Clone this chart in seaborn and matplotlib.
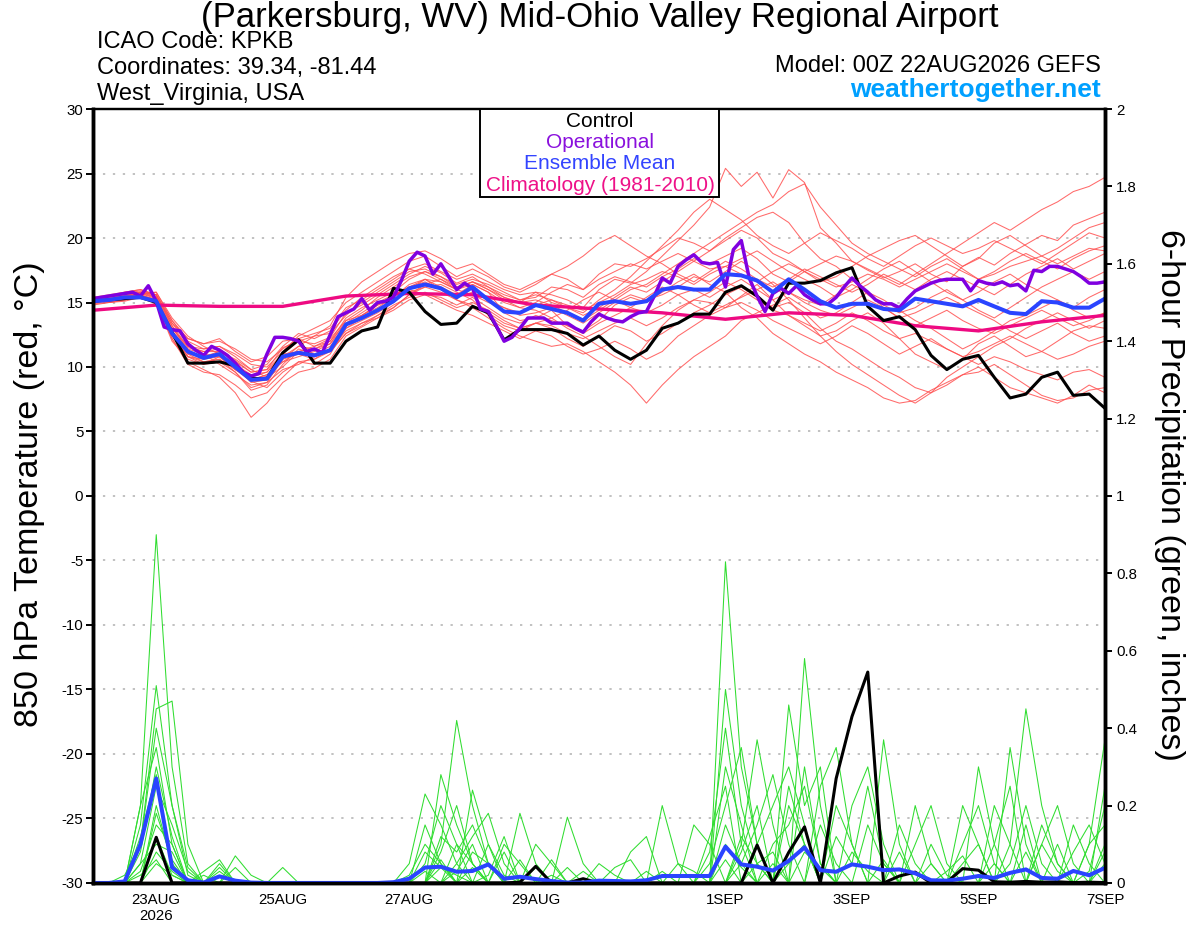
import numpy as np
import pandas as pd
import matplotlib
matplotlib.use("Agg")
import matplotlib.pyplot as plt
import seaborn as sns
from matplotlib.patches import Rectangle

# forecast steps in days after 00Z 22AUG2026 (6-hourly GEFS, 3-hourly operational)
steps = np.arange(65) * 0.25
steps_op = np.arange(129) * 0.125
clim_days = np.arange(17)

tick_days = [1, 3, 5, 7, 10, 12, 14, 16]
tick_labels = ["23AUG\n2026", "25AUG", "27AUG", "29AUG", "1SEP", "3SEP", "5SEP", "7SEP"]

# 850 hPa temperature (C)
control_t = [15.1, 15.2, 15.3, 15.4, 15.0, 12.7, 10.3, 10.3,
             10.4, 10.1, 9.1, 9.1, 11.1, 12.1, 10.3, 10.3,
             12.0, 12.8, 13.1, 16.1, 15.8, 14.3, 13.3, 13.4,
             14.7, 14.2, 12.1, 12.9, 12.9, 12.9, 12.6, 11.7,
             12.4, 11.3, 10.6, 11.3, 13.0, 13.4, 14.1, 14.1,
             15.8, 16.3, 15.5, 14.4, 16.5, 16.5, 16.7, 17.3,
             17.7, 14.7, 13.6, 13.9, 12.9, 10.9, 9.8, 10.6,
             10.9, 9.2, 7.6, 7.9, 9.2, 9.6, 7.8, 7.9, 6.8]

mean_t = [15.1, 15.2, 15.4, 15.4, 15.1, 12.6, 11.2, 10.7,
          11.0, 10.0, 9.0, 9.1, 10.8, 11.1, 10.9, 11.3,
          13.3, 13.8, 14.4, 15.1, 16.1, 16.4, 16.1, 15.4,
          16.2, 15.2, 14.3, 14.2, 14.8, 14.5, 14.2, 13.6,
          14.9, 15.1, 14.9, 15.1, 16.0, 16.2, 16.0, 16.0,
          17.2, 17.1, 16.7, 15.8, 16.8, 16.0, 15.1, 14.6,
          14.9, 14.9, 14.5, 14.4, 15.3, 15.1, 14.9, 14.7,
          15.2, 14.7, 14.2, 14.1, 15.1, 15.0, 14.6, 14.6, 15.3]

oper_t = [15.3, 15.4, 15.5, 15.6, 15.7, 15.8, 15.5, 16.3,
          15.1, 13.1, 12.9, 12.8, 11.8, 11.3, 10.9, 11.6,
          11.3, 10.9, 10.3, 9.6, 9.3, 9.5, 11.0, 12.3,
          12.3, 12.2, 12.0, 11.2, 11.4, 11.1, 12.5, 13.9,
          14.2, 14.5, 15.3, 14.4, 15.0, 15.1, 15.4, 16.7,
          18.2, 18.9, 18.6, 17.2, 18.0, 17.0, 16.0, 16.5,
          16.1, 14.5, 14.3, 13.2, 12.0, 12.3, 13.0, 13.8,
          13.8, 13.8, 13.4, 13.4, 13.4, 13.0, 12.7, 13.5,
          14.1, 13.8, 13.6, 13.5, 13.9, 14.2, 14.3, 15.5,
          16.9, 16.5, 17.8, 18.3, 18.7, 18.1, 18.0, 18.1,
          16.2, 19.1, 19.8, 16.9, 15.5, 14.3, 15.7, 16.1,
          15.7, 16.3, 15.6, 15.2, 14.9, 14.9, 15.4, 16.2,
          16.9, 16.3, 15.8, 15.2, 14.9, 14.9, 14.6, 15.3,
          15.9, 16.2, 16.5, 16.7, 16.8, 16.8, 16.8, 15.9,
          16.7, 16.5, 16.4, 16.6, 16.3, 16.4, 15.9, 17.5,
          17.4, 17.8, 17.8, 17.6, 17.4, 17.0, 16.5, 16.5, 16.6]

clim_t = [14.4, 14.8, 14.7, 14.7, 15.5, 15.7, 15.6, 14.8, 14.5,
          14.2, 13.7, 14.2, 14.0, 13.2, 12.8, 13.5, 14.0]

member_t = [
    [15.0, 15.3, 15.6, 15.8, 15.4, 13.0, 11.5, 11.2, 11.4, 10.5, 9.6, 9.8, 11.5, 12.0, 11.8, 12.3,
     14.2, 14.8, 15.6, 16.4, 17.2, 17.8, 17.3, 16.5, 17.0, 16.2, 15.4, 15.0, 15.8, 15.6, 15.2, 14.6,
     16.0, 16.8, 16.5, 17.4, 18.6, 19.8, 21.0, 22.4, 25.4, 24.0, 25.1, 23.1, 25.3, 24.3, 20.8, 19.6,
     18.2, 17.5, 16.9, 17.4, 18.0, 17.2, 16.6, 17.8, 18.5, 17.9, 18.8, 19.5, 20.2, 19.8, 21.0, 21.5, 22.0],
    [15.2, 15.1, 15.4, 15.6, 15.0, 12.2, 10.4, 9.8, 9.2, 8.0, 6.1, 7.2, 8.8, 9.6, 9.9, 10.6,
     12.4, 13.1, 13.8, 14.6, 15.6, 16.2, 16.4, 15.8, 15.2, 14.0, 13.2, 12.8, 13.4, 13.8, 13.0, 12.4,
     11.6, 10.8, 10.2, 11.8, 13.2, 14.4, 15.2, 15.0, 14.6, 15.5, 16.4, 15.2, 14.0, 13.2, 12.4, 12.8,
     13.6, 14.2, 13.4, 12.2, 11.0, 10.4, 9.8, 10.6, 11.8, 12.4, 11.6, 10.8, 11.2, 12.0, 12.8, 13.2, 13.0],
    [15.4, 15.5, 15.7, 15.9, 15.6, 13.4, 11.8, 11.0, 10.8, 9.8, 8.9, 8.4, 9.6, 10.4, 10.2, 11.0,
     13.0, 13.6, 14.2, 15.0, 16.0, 16.8, 16.2, 15.6, 16.4, 15.8, 14.2, 13.6, 13.8, 14.4, 13.2, 12.8,
     13.6, 14.8, 15.4, 15.0, 15.8, 16.6, 17.2, 16.4, 15.8, 14.6, 13.8, 12.6, 11.8, 11.0, 10.4, 9.6,
     9.0, 8.4, 7.6, 7.2, 7.4, 8.2, 8.8, 9.4, 9.6, 10.2, 9.4, 8.6, 7.8, 7.4, 7.6, 8.2, 8.4],
    [15.0, 15.2, 15.3, 15.7, 15.8, 13.8, 12.4, 11.6, 11.0, 10.2, 9.4, 9.6, 10.8, 11.6, 12.4, 13.2,
     15.4, 16.6, 17.4, 18.2, 18.8, 19.0, 18.4, 17.6, 18.0, 17.2, 16.4, 16.0, 16.6, 17.2, 16.8, 16.0,
     17.2, 18.0, 17.8, 18.4, 19.2, 20.0, 19.6, 19.0, 19.8, 20.6, 20.0, 18.8, 18.2, 17.4, 16.6, 17.0,
     17.8, 18.6, 19.2, 19.8, 20.2, 19.4, 18.6, 17.8, 18.4, 19.6, 20.2, 19.4, 18.6, 19.2, 20.0, 20.8, 21.2],
    [15.1, 15.0, 15.2, 15.5, 15.2, 12.8, 11.0, 10.4, 10.6, 9.8, 9.0, 9.4, 10.4, 10.8, 11.2, 11.8,
     13.6, 14.0, 14.8, 15.6, 16.2, 16.8, 16.0, 15.2, 14.6, 13.8, 13.0, 12.4, 12.0, 11.6, 11.8, 11.2,
     10.4, 9.6, 8.6, 7.2, 8.6, 9.8, 10.8, 11.6, 12.4, 13.6, 14.2, 14.8, 15.4, 14.6, 13.8, 14.2,
     15.0, 15.8, 15.2, 14.4, 13.6, 13.0, 12.2, 11.4, 12.0, 12.8, 13.6, 14.0, 14.6, 15.2, 14.4, 13.8, 14.2],
    [15.3, 15.4, 15.6, 15.8, 15.5, 13.2, 11.2, 10.8, 11.2, 10.6, 9.8, 9.2, 10.0, 11.2, 11.6, 12.0,
     13.8, 14.6, 15.2, 15.8, 16.8, 17.4, 17.0, 16.4, 16.8, 16.4, 15.8, 15.2, 15.4, 16.2, 16.0, 15.4,
     16.4, 17.0, 16.6, 16.2, 17.0, 17.6, 18.4, 18.0, 18.6, 19.2, 18.4, 17.2, 16.6, 17.4, 18.0, 18.6,
     18.2, 17.6, 17.0, 16.4, 17.2, 18.0, 18.8, 19.6, 20.4, 21.2, 20.6, 21.4, 22.2, 22.8, 23.6, 24.0, 24.7],
    [14.8, 15.0, 15.1, 15.4, 15.0, 12.4, 10.8, 10.2, 10.4, 9.6, 8.2, 8.6, 10.2, 11.4, 11.0, 11.6,
     13.2, 14.0, 14.6, 15.4, 16.4, 16.8, 16.6, 16.0, 15.6, 15.0, 14.6, 14.2, 14.8, 15.2, 14.6, 14.0,
     14.6, 15.4, 16.2, 15.8, 16.6, 17.4, 18.2, 19.0, 20.0, 20.8, 21.6, 22.0, 21.2, 19.6, 18.4, 17.8,
     16.8, 15.6, 14.8, 14.2, 14.6, 15.4, 16.0, 15.2, 14.4, 13.8, 14.6, 15.4, 16.2, 16.8, 17.4, 16.8, 17.4],
    [15.2, 15.3, 15.5, 15.7, 15.3, 12.6, 11.0, 10.8, 11.0, 10.0, 8.8, 9.0, 10.6, 11.0, 10.6, 11.4,
     12.8, 13.4, 14.0, 14.8, 15.4, 15.8, 15.2, 14.6, 15.0, 14.4, 13.6, 13.0, 13.4, 13.0, 12.2, 11.6,
     12.4, 13.2, 12.8, 12.0, 12.6, 13.4, 14.2, 14.8, 15.6, 16.2, 15.4, 14.6, 15.0, 14.2, 13.0, 12.0,
     11.4, 10.6, 9.8, 9.2, 8.4, 8.0, 8.6, 9.4, 10.0, 9.2, 8.4, 8.0, 7.6, 7.2, 7.8, 8.6, 8.0],
    [15.0, 15.1, 15.4, 15.6, 15.8, 13.6, 12.0, 11.4, 11.6, 11.0, 10.2, 10.0, 11.2, 12.4, 13.0, 13.6,
     15.0, 15.8, 16.6, 17.4, 18.2, 18.6, 17.8, 17.0, 17.6, 17.0, 16.2, 15.8, 16.4, 17.2, 17.8, 18.6,
     19.6, 20.2, 19.4, 18.6, 18.0, 17.2, 16.6, 17.4, 18.2, 17.6, 16.8, 16.2, 16.8, 17.6, 17.0, 16.4,
     15.8, 16.4, 17.2, 16.6, 16.0, 16.8, 17.4, 16.8, 16.2, 15.6, 16.4, 17.2, 17.8, 18.4, 17.6, 18.2, 18.8],
    [15.1, 15.2, 15.3, 15.5, 15.0, 12.0, 10.6, 10.2, 10.8, 9.8, 9.2, 9.6, 11.0, 11.2, 10.8, 11.2,
     12.6, 13.4, 13.8, 14.4, 15.2, 15.6, 15.4, 14.8, 15.4, 14.6, 13.8, 13.4, 14.0, 13.6, 13.2, 12.6,
     13.4, 14.0, 14.6, 14.2, 14.8, 15.6, 16.0, 15.4, 16.2, 16.8, 16.0, 15.2, 15.8, 15.0, 14.4, 14.0,
     14.6, 15.2, 14.6, 13.8, 13.2, 13.8, 14.4, 13.6, 13.0, 12.6, 13.2, 13.8, 14.4, 13.8, 13.2, 13.6, 14.2],
    [15.3, 15.5, 15.8, 16.0, 15.6, 13.4, 12.2, 11.8, 12.0, 11.4, 10.6, 10.4, 11.4, 12.2, 12.6, 13.0,
     14.6, 15.2, 16.0, 16.8, 17.6, 18.0, 17.4, 16.8, 17.2, 16.6, 16.0, 15.6, 15.8, 15.0, 14.6, 14.2,
     15.2, 16.0, 17.0, 18.2, 19.4, 20.6, 22.0, 23.0, 22.2, 21.4, 20.2, 19.4, 18.8, 19.6, 20.4, 19.8,
     19.2, 18.4, 17.8, 18.6, 19.4, 20.0, 19.4, 18.8, 19.2, 19.8, 19.2, 18.6, 18.0, 18.8, 19.6, 20.4, 20.0],
    [15.0, 15.1, 15.2, 15.4, 15.2, 12.8, 11.4, 11.0, 10.2, 9.4, 8.6, 8.8, 9.8, 10.2, 10.8, 11.4,
     13.0, 13.8, 14.4, 15.2, 16.0, 15.6, 15.0, 14.4, 14.0, 13.4, 12.8, 12.2, 12.8, 12.4, 11.6, 11.0,
     11.4, 12.0, 11.4, 10.6, 11.2, 12.4, 13.2, 14.0, 14.6, 15.0, 14.4, 13.6, 13.0, 12.4, 11.8, 12.4,
     13.2, 12.6, 11.8, 11.0, 11.6, 12.2, 11.4, 10.8, 11.2, 11.8, 12.4, 11.8, 11.2, 10.6, 11.0, 11.6, 12.0],
    [15.2, 15.4, 15.5, 15.7, 15.4, 13.0, 11.6, 11.4, 11.6, 10.8, 9.8, 10.2, 11.6, 12.6, 12.2, 12.8,
     14.4, 15.4, 16.2, 17.0, 17.6, 17.2, 16.6, 16.0, 16.4, 15.8, 15.0, 14.6, 15.0, 15.8, 16.4, 16.0,
     16.8, 17.4, 18.0, 17.6, 18.2, 18.8, 18.2, 17.6, 17.8, 18.4, 19.0, 18.2, 17.4, 16.8, 16.2, 15.4,
     16.0, 16.8, 17.6, 18.2, 17.4, 16.6, 15.8, 15.2, 15.8, 16.6, 17.2, 16.4, 15.8, 15.2, 14.6, 15.4, 16.0],
    [14.9, 15.0, 15.2, 15.5, 15.0, 12.2, 10.2, 9.6, 9.4, 8.6, 7.6, 8.0, 9.2, 10.4, 10.6, 11.2,
     12.6, 13.2, 14.0, 14.6, 15.6, 16.4, 16.8, 16.2, 16.6, 16.0, 15.2, 14.6, 14.4, 13.8, 14.4, 15.2,
     15.8, 15.2, 14.6, 15.4, 16.2, 15.6, 14.8, 14.2, 14.8, 15.4, 16.0, 16.6, 15.8, 15.2, 14.8, 15.6,
     16.4, 15.8, 14.6, 13.8, 14.2, 14.8, 15.4, 14.8, 14.2, 13.6, 12.8, 12.2, 12.8, 13.4, 12.6, 12.0, 12.4],
    [15.4, 15.6, 15.8, 16.0, 15.6, 13.2, 11.6, 11.2, 11.2, 10.4, 9.6, 9.8, 11.0, 12.0, 12.4, 12.6,
     14.0, 15.0, 15.8, 16.6, 17.4, 17.6, 17.0, 16.2, 16.6, 16.0, 15.4, 15.0, 15.2, 14.8, 14.2, 13.6,
     14.4, 15.2, 16.0, 16.4, 17.2, 18.0, 18.8, 19.6, 20.4, 21.2, 22.0, 22.6, 23.6, 24.2, 22.4, 21.0,
     19.6, 18.8, 18.2, 17.6, 17.0, 17.8, 18.4, 17.6, 16.8, 17.4, 18.2, 18.8, 18.2, 17.6, 18.4, 19.0, 19.4],
    [15.1, 15.3, 15.4, 15.6, 15.2, 12.6, 10.8, 10.4, 10.6, 9.6, 8.4, 8.8, 10.6, 11.6, 11.4, 12.0,
     13.4, 14.2, 15.0, 15.6, 16.2, 16.6, 16.0, 15.4, 15.8, 15.2, 14.6, 14.0, 14.2, 14.6, 14.0, 13.4,
     14.2, 15.0, 15.6, 15.2, 15.6, 16.2, 17.0, 16.6, 17.4, 18.2, 17.4, 16.4, 15.2, 13.8, 12.4, 11.2,
     10.2, 9.4, 8.6, 7.8, 7.2, 8.0, 9.2, 10.0, 10.8, 11.6, 12.2, 13.0, 13.6, 14.2, 13.6, 13.0, 13.6],
    [15.0, 15.2, 15.5, 15.8, 15.6, 13.6, 12.2, 11.8, 12.2, 11.2, 10.4, 10.8, 12.0, 12.2, 11.6, 12.2,
     13.6, 14.4, 15.4, 16.2, 17.0, 17.4, 16.8, 16.0, 16.6, 16.2, 15.6, 15.2, 15.6, 15.2, 14.8, 14.4,
     15.0, 15.6, 16.4, 16.8, 17.4, 17.0, 16.4, 17.2, 17.8, 17.2, 16.6, 17.4, 18.0, 17.4, 16.8, 16.2,
     16.6, 17.2, 16.8, 16.2, 16.8, 17.4, 18.0, 17.4, 16.8, 17.2, 17.8, 18.2, 18.6, 18.0, 18.6, 19.2, 19.0],
    [15.2, 15.3, 15.5, 15.6, 15.2, 12.4, 10.8, 10.6, 10.8, 10.2, 9.0, 9.4, 10.4, 11.2, 11.4, 11.8,
     13.2, 14.0, 14.8, 15.2, 15.8, 16.2, 15.8, 15.2, 14.8, 14.2, 13.4, 13.0, 13.4, 13.2, 12.6, 12.2,
     12.8, 13.4, 13.8, 13.2, 13.8, 14.6, 15.2, 15.8, 16.6, 16.0, 15.2, 14.4, 14.0, 13.4, 12.8, 13.4,
     14.2, 13.6, 12.8, 12.2, 12.6, 12.0, 11.4, 10.8, 10.2, 10.8, 10.4, 9.8, 9.4, 9.0, 9.6, 9.8, 9.2],
]

# 6-hour precipitation (inches)
control_p = [0, 0, 0, 0, .118, 0, 0, 0, 0, 0, 0, 0, 0, 0, 0, 0,
             0, 0, 0, 0, 0, 0, 0, 0, 0, 0, 0, .002, .043, 0, 0, .011,
             0, 0, 0, 0, 0, 0, 0, 0, 0, 0, .098, 0, .079, .145, 0, .27,
             .43, .545, 0, .018, .028, 0, .002, .037, .033, .003, .002, .004, .002, .003, .001, .002, .001]

mean_p = [0, 0, .004, .10, .27, .04, .007, .001, .017, .006, .001, 0, 0, 0, 0, 0,
          0, 0, 0, .002, .011, .04, .042, .029, .031, .048, .011, .016, .010, .005, .001, .001,
          .006, .005, .004, .007, .018, .018, .018, .018, .094, .048, .042, .032, .057, .092, .033, .029,
          .048, .042, .033, .035, .025, .007, .006, .011, .018, .013, .026, .035, .013, .011, .031, .020, .039]

# non-zero 6-hour totals of each member, by step index
member_p = [
    {3: .2, 4: .9, 5: .3, 6: .05, 22: .1, 23: .42, 24: .2, 25: .05, 40: .83, 41: .3, 42: .1,
     44: .2, 45: .1, 58: .1, 59: .45, 60: .2, 61: .05, 64: .1},
    {3: .15, 4: .51, 5: .2, 6: .02, 21: .15, 22: .05, 24: .24, 25: .1, 39: .05, 40: .2, 41: .35,
     42: .1, 45: .58, 46: .2, 55: .1, 56: .2, 57: .05, 63: .1, 64: .37},
    {2: .02, 3: .1, 4: .45, 5: .47, 6: .1, 8: .05, 20: .05, 21: .23, 22: .15, 23: .05, 27: .18,
     28: .05, 41: .1, 42: .37, 43: .15, 48: .2, 49: .3, 50: .1, 60: .1, 61: .2, 62: .05},
    {3: .2, 4: .35, 5: .1, 9: .07, 10: .02, 21: .05, 22: .2, 23: .1, 26: .1, 27: .05, 30: .17,
     31: .05, 44: .46, 45: .2, 46: .3, 52: .1, 53: .2, 54: .05, 57: .1, 58: .25},
    {3: .08, 4: .3, 5: .12, 8: .03, 12: .04, 22: .28, 23: .15, 24: .05, 36: .2, 37: .05, 40: .3,
     41: .15, 46: .25, 47: .35, 48: .1, 58: .35, 59: .1},
    {3: .05, 4: .25, 5: .15, 6: .03, 23: .05, 24: .12, 25: .18, 26: .05, 38: .15, 39: .1, 42: .1,
     43: .2, 44: .3, 45: .15, 50: .37, 51: .1, 64: .25},
    {4: .2, 5: .05, 7: .03, 8: .06, 20: .02, 21: .1, 22: .05, 28: .1, 29: .05, 34: .08, 35: .12,
     40: .5, 41: .2, 42: .05, 47: .2, 48: .1, 55: .2, 56: .1, 62: .15, 63: .05},
    {3: .03, 4: .15, 5: .1, 9: .04, 22: .12, 23: .08, 24: .15, 25: .05, 41: .05, 42: .15, 43: .28,
     44: .1, 49: .15, 50: .05, 56: .3, 57: .1, 59: .15},
    {4: .12, 5: .02, 8: .04, 23: .1, 24: .05, 26: .08, 29: .06, 32: .05, 33: .02, 39: .08, 40: .4,
     41: .1, 45: .3, 46: .05, 52: .2, 53: .05, 60: .15, 61: .05, 64: .05},
    {3: .05, 4: .1, 5: .08, 21: .08, 22: .04, 25: .1, 26: .02, 30: .04, 37: .05, 38: .03, 43: .1,
     44: .15, 45: .25, 46: .05, 51: .08, 57: .2, 58: .1, 63: .1, 64: .15},
    {4: .08, 5: .03, 7: .02, 24: .08, 25: .05, 28: .04, 40: .15, 41: .05, 47: .12, 48: .05, 49: .25,
     50: .05, 55: .05, 56: .1, 61: .1},
    {3: .02, 4: .06, 22: .04, 23: .02, 27: .06, 33: .04, 34: .06, 41: .12, 42: .05, 44: .05, 45: .1,
     53: .1, 54: .02, 58: .05, 59: .2, 60: .05},
    {4: .05, 5: .02, 21: .03, 24: .04, 29: .02, 36: .03, 40: .06, 42: .05, 43: .08, 46: .15, 47: .05,
     50: .06, 62: .08, 63: .15, 64: .05},
    {3: .1, 4: .4, 5: .2, 6: .04, 22: .06, 25: .02, 26: .12, 39: .12, 40: .25, 43: .05, 48: .08,
     49: .03, 54: .03, 55: .07, 64: .08},
    {4: .18, 5: .06, 8: .02, 23: .03, 24: .1, 31: .03, 41: .08, 42: .2, 45: .08, 46: .04, 51: .15,
     52: .05, 57: .05, 60: .1, 61: .03},
    {3: .12, 4: .28, 5: .04, 22: .08, 23: .2, 24: .05, 35: .03, 40: .1, 41: .04, 44: .25, 45: .1,
     53: .05, 59: .08, 63: .03, 64: .2},
]

legend_items = [("Control", "black"), ("Operational", "#8a10dd"),
                ("Ensemble Mean", "#3344ff"), ("Climatology (1981-2010)", "#ee1188")]

sns.set_style("white")
plt.rcParams['font.family'] = ['Liberation Sans', 'DejaVu Sans']
plt.rcParams['axes.unicode_minus'] = False
plt.rcParams['text.color'] = 'black'

df_t = pd.DataFrame([(m, d, v) for m, row in enumerate(member_t) for d, v in zip(steps, row)],
                    columns=["member", "day", "t850"])
rows = []
for m, spikes in enumerate(member_p):
    for i, d in enumerate(steps):
        rows.append((m, d, spikes.get(i, 0.0)))
df_p = pd.DataFrame(rows, columns=["member", "day", "precip"])

fig = plt.figure(figsize=(12, 9.27), dpi=100)
ax = fig.add_axes([0.0775, 0.0475, 0.8433, 0.8349])
ax2 = ax.twinx()

for t in range(-25, 30, 5):
    ax.axhline(t, color="#b0b0b0", lw=1.1, ls=(0, (1.5, 5)), zorder=0)

sns.lineplot(data=df_t, x="day", y="t850", units="member", estimator=None,
             color="#ff5050", lw=0.75, alpha=0.85, ax=ax, legend=False)
sns.lineplot(x=clim_days, y=clim_t, color="#ee0a82", lw=2.4, ax=ax)
sns.lineplot(x=steps, y=control_t, color="black", lw=2.2, ax=ax)
sns.lineplot(x=steps_op, y=oper_t, color="#8000e0", lw=2.5, ax=ax)
sns.lineplot(x=steps, y=mean_t, color="#2a44ff", lw=2.9, ax=ax)

sns.lineplot(data=df_p, x="day", y="precip", units="member", estimator=None,
             color="#30dd30", lw=0.75, ax=ax2, legend=False)
sns.lineplot(x=steps, y=control_p, color="black", lw=2.2, ax=ax2)
sns.lineplot(x=steps, y=mean_p, color="#2a44ff", lw=2.9, ax=ax2)

ax.set_xlim(0, 16)
ax.set_ylim(-30, 30)
ax2.set_ylim(0, 2)
ax.set_yticks(range(-30, 31, 5))
ax.set_yticklabels([str(v) for v in range(-30, 31, 5)])
ax2.set_yticks(np.arange(0, 2.01, 0.2))
ax2.set_yticklabels(["0", "0.2", "0.4", "0.6", "0.8", "1", "1.2", "1.4", "1.6", "1.8", "2"])
ax.set_xticks(tick_days)
ax.set_xticklabels(tick_labels, linespacing=1.25)
ax.set_xlabel("")
ax.set_ylabel("")
ax2.set_ylabel("")

ax.tick_params(axis="both", direction="out", length=5, width=1.4, labelsize=10.8, pad=2,
               colors="black", labelcolor="black")
ax2.tick_params(axis="y", direction="out", length=5, width=1.4, labelsize=10.8, pad=3,
                colors="black", labelcolor="black")
for a in (ax, ax2):
    for side, sp in a.spines.items():
        sp.set_color("black")
        sp.set_linewidth(1.6 if side == "top" else 2.5)

# legend box at the top of the plot
ax2.add_patch(Rectangle((0.3824, 0.8863), 0.2362, 0.1137, transform=ax.transAxes,
                        facecolor="white", edgecolor="black", lw=1.4, zorder=10))
for k, (txt, col) in enumerate(legend_items):
    fig.text(600 / 1200, 1 - (126.5 + 21.4 * k) / 927, txt, color=col, fontsize=15,
             ha="center", va="baseline", zorder=11)

fig.text(0.5, 1 - 27.5 / 927, "(Parkersburg, WV) Mid-Ohio Valley Regional Airport",
         ha="center", va="baseline", fontsize=25, color="black")
fig.text(97 / 1200, 1 - 47.5 / 927, "ICAO Code: KPKB", fontsize=17, va="baseline", color="black")
fig.text(97 / 1200, 1 - 74 / 927, "Coordinates: 39.34, -81.44", fontsize=17, va="baseline",
         color="black")
fig.text(97 / 1200, 1 - 100 / 927, "West_Virginia, USA", fontsize=17, va="baseline", color="black")
fig.text(1101 / 1200, 1 - 72 / 927, "Model: 00Z 22AUG2026 GEFS", fontsize=17,
         ha="right", va="baseline", color="black")
fig.text(1101 / 1200, 1 - 97 / 927, "weathertogether.net", fontsize=19, fontweight="bold",
         color="#00a0ff", ha="right", va="baseline")

fig.text(30 / 1200, 1 - 494 / 927, "850 hPa Temperature (red, °C)", rotation=90,
         fontsize=24.5, ha="center", va="center", color="black")
fig.text(1170 / 1200, 1 - 495 / 927, "6-hour Precipitation (green, inches)", rotation=270,
         fontsize=24.5, ha="center", va="center", color="black")

fig.savefig("out.png", dpi=100)
